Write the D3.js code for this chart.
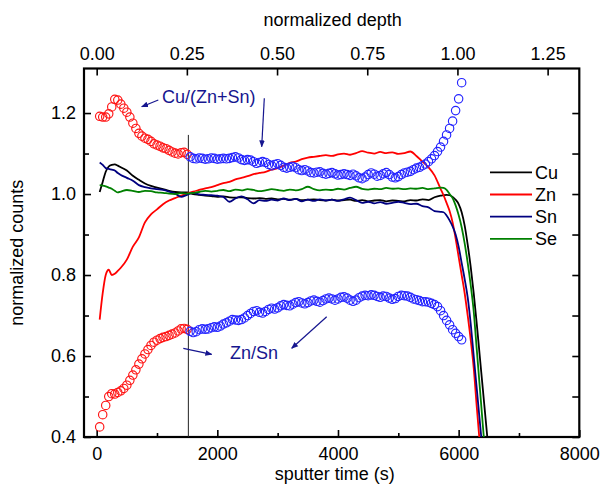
<!DOCTYPE html>
<html lang="en">
<head>
  <meta charset="UTF-8">
  <title>normalized counts vs sputter time</title>
  <script src="https://cdn.jsdelivr.net/npm/d3@7"></script>
  <style>
    body { margin: 0; background: #fff; }
    svg { font-family: "Liberation Sans", Arial, sans-serif; }
  </style>
</head>
<body>
<script>
  // sample times (s) of the element profiles
  const lineTimes = [50, 100, 150, 200, 250, 300, 350, 400,
    500, 600, 700, 800, 900, 1000, 1100, 1200, 1300, 1400, 1500, 1600, 1700, 1800, 1900, 2000,
    2100, 2200, 2300, 2400, 2500, 2600, 2700, 2800, 2900, 3000, 3100, 3200, 3300, 3400, 3500,
    3600, 3700, 3800, 3900, 4000, 4100, 4200, 4300, 4400, 4500, 4600, 4700, 4800, 4900, 5000,
    5100, 5200, 5300, 5400, 5500, 5600, 5700,
    5750, 5800, 5850, 5900, 5950, 6000, 6050, 6100, 6150, 6200, 6250, 6300, 6350, 6400, 6450, 6500];

  const cu = [1.005, 1.03, 1.055, 1.068, 1.072, 1.073, 1.070, 1.066,
    1.058, 1.045, 1.035, 1.026, 1.020, 1.016, 1.012, 1.008, 1.005, 1.004, 1.004, 1.000, 0.998, 0.996, 0.995, 0.993,
    0.994, 0.992, 0.991, 0.992, 0.990, 0.989, 0.990, 0.988, 0.989, 0.987, 0.988, 0.986, 0.988, 0.985, 0.986,
    0.987, 0.985, 0.984, 0.986, 0.984, 0.985, 0.986, 0.983, 0.985, 0.982, 0.984, 0.985, 0.982, 0.984, 0.983,
    0.982, 0.985, 0.984, 0.987, 0.985, 0.992, 0.996,
    0.997, 0.998, 0.997, 0.993, 0.986, 0.975, 0.955, 0.922, 0.875, 0.82, 0.755, 0.68, 0.60, 0.52, 0.44, 0.36];

  const zn = [0.690, 0.755, 0.800, 0.813, 0.800, 0.803, 0.810, 0.818,
    0.838, 0.870, 0.893, 0.930, 0.950, 0.962, 0.975, 0.984, 0.990, 0.996, 1.001, 1.006, 1.010, 1.014, 1.017, 1.022,
    1.027, 1.030, 1.036, 1.040, 1.044, 1.049, 1.052, 1.055, 1.060, 1.064, 1.070, 1.077, 1.080, 1.086, 1.090,
    1.092, 1.094, 1.096, 1.094, 1.098, 1.100, 1.097, 1.101, 1.106, 1.102, 1.100, 1.104, 1.101, 1.103, 1.099,
    1.101, 1.105, 1.094, 1.080, 1.066, 1.046, 1.013,
    0.997, 0.978, 0.958, 0.930, 0.890, 0.845, 0.800, 0.755, 0.700, 0.640, 0.570, 0.475, 0.385, 0.30, 0.22, 0.14];

  const sn = [1.078, 1.072, 1.064, 1.062, 1.060, 1.058, 1.052, 1.047,
    1.040, 1.033, 1.022, 1.017, 1.014, 1.012, 1.010, 1.006, 1.001, 0.993, 0.998, 1.003, 0.999, 0.998, 0.997, 0.996,
    0.993, 0.981, 0.989, 0.994, 0.987, 0.977, 0.985, 0.983, 0.986, 0.984, 0.989, 0.985, 0.988, 0.982, 0.986,
    0.983, 0.987, 0.984, 0.986, 0.983, 0.987, 0.991, 0.985, 0.978, 0.981, 0.977, 0.980, 0.976, 0.978, 0.981,
    0.978, 0.975, 0.976, 0.970, 0.967, 0.958, 0.956,
    0.955, 0.947, 0.935, 0.920, 0.900, 0.870, 0.830, 0.790, 0.745, 0.680, 0.600, 0.520, 0.440, 0.36, 0.28, 0.20];

  const se = [1.022, 1.021, 1.019, 1.016, 1.013, 1.008, 1.004, 1.006,
    1.010, 1.008, 1.005, 1.008, 1.007, 1.004, 1.003, 1.001, 1.000, 1.002, 1.001, 1.003, 1.005, 1.008, 1.006, 1.008,
    1.010, 1.007, 1.011, 1.009, 1.012, 1.010, 1.007, 1.009, 1.012, 1.010, 1.008, 1.011, 1.009, 1.012, 1.018,
    1.012, 1.009, 1.011, 1.010, 1.013, 1.011, 1.015, 1.018, 1.013, 1.011, 1.013, 1.012, 1.015, 1.013, 1.014,
    1.012, 1.014, 1.013, 1.015, 1.012, 1.014, 1.016,
    1.015, 1.010, 1.000, 0.990, 0.972, 0.948, 0.918, 0.878, 0.830, 0.775, 0.710, 0.617, 0.524, 0.431, 0.34, 0.25];

  // ratio series, one point every 50 s from 50 s to 6050 s
  const ratioStart = 50, ratioStep = 50;
  const cuRatio = [1.192, 1.190, 1.190, 1.198, 1.215, 1.234, 1.232, 1.222, 1.212, 1.202,
    1.190, 1.175, 1.162, 1.150, 1.143, 1.138, 1.135, 1.130, 1.124, 1.121,
    1.118, 1.114, 1.112, 1.108, 1.104, 1.101, 1.099, 1.102, 1.103, 1.098,
    1.092, 1.088, 1.087, 1.089, 1.088, 1.086, 1.087, 1.089, 1.088, 1.086,
    1.087, 1.088, 1.087, 1.088, 1.090, 1.092, 1.089, 1.085, 1.083, 1.085,
    1.084, 1.080, 1.076, 1.078, 1.080, 1.078, 1.073, 1.070, 1.073, 1.075,
    1.071, 1.066, 1.064, 1.066, 1.068, 1.065, 1.060, 1.058, 1.060, 1.057,
    1.053, 1.052, 1.054, 1.055, 1.051, 1.049, 1.051, 1.053, 1.050, 1.047,
    1.048, 1.050, 1.048, 1.046, 1.049, 1.045, 1.040, 1.038, 1.042, 1.048,
    1.052, 1.049, 1.044, 1.046, 1.050, 1.053, 1.048, 1.042, 1.040, 1.043,
    1.048, 1.052, 1.054, 1.056, 1.060, 1.064, 1.066, 1.070, 1.074, 1.080,
    1.087, 1.095, 1.105, 1.116, 1.130, 1.146, 1.162, 1.180, 1.206, 1.235, 1.275];
  const znSnRatio = [0.425, 0.455, 0.478, 0.500, 0.507, 0.506, 0.510, 0.514, 0.520, 0.528,
    0.540, 0.553, 0.566, 0.580, 0.593, 0.605, 0.616, 0.626, 0.634, 0.639,
    0.643, 0.646, 0.648, 0.651, 0.654, 0.657, 0.662, 0.667, 0.668, 0.666,
    0.661, 0.658, 0.660, 0.665, 0.667, 0.666, 0.667, 0.670, 0.672, 0.671,
    0.674, 0.679, 0.682, 0.686, 0.690, 0.689, 0.688, 0.690, 0.694, 0.700,
    0.705, 0.710, 0.712, 0.708, 0.706, 0.710, 0.715, 0.718, 0.716, 0.719,
    0.724, 0.727, 0.725, 0.724, 0.728, 0.732, 0.734, 0.731, 0.729, 0.732,
    0.736, 0.738, 0.735, 0.733, 0.737, 0.741, 0.743, 0.741, 0.738, 0.741,
    0.745, 0.746, 0.743, 0.738, 0.735, 0.738, 0.744, 0.748, 0.750, 0.749,
    0.751, 0.750, 0.747, 0.745, 0.748, 0.747, 0.743, 0.740, 0.742, 0.747,
    0.750, 0.749, 0.748, 0.745, 0.741, 0.739, 0.737, 0.734, 0.734, 0.733,
    0.730, 0.727, 0.722, 0.712, 0.700, 0.688, 0.677, 0.665, 0.656, 0.648, 0.640];

  const splitTime = 1520;     // vertical marker, red before / blue after
  const depthOneTime = 5980;  // sputter time of normalized depth 1.0

  const xTicks = [0, 2000, 4000, 6000, 8000];
  const xMinor = [1000, 3000, 5000, 7000];
  const depthTicks = [0, 0.25, 0.5, 0.75, 1.0, 1.25];
  const yTicks = [0.4, 0.6, 0.8, 1.0, 1.2];
  const yMinor = [0.5, 0.7, 0.9, 1.1];

  const series = [
    {name: 'Cu', values: cu, color: '#000000'},
    {name: 'Zn', values: zn, color: '#ff0000'},
    {name: 'Sn', values: sn, color: '#000080'},
    {name: 'Se', values: se, color: '#008000'}
  ];

  const width = 600, height = 493;
  const plot = {left: 84, right: 579.3, top: 68.5, bottom: 437};
  const annColor = '#16168f';

  const x = d3.scaleLinear().domain([-210, 8000]).range([plot.left, plot.right]);
  const xTop = d3.scaleLinear().domain([-210 / depthOneTime, 8000 / depthOneTime]).range([plot.left, plot.right]);
  const y = d3.scaleLinear().domain([0.4, 1.31]).range([plot.bottom, plot.top]);

  const svg = d3.select('body').append('svg').attr('width', width).attr('height', height);

  svg.append('defs').append('clipPath').attr('id', 'plotClip')
    .append('rect')
    .attr('x', plot.left).attr('y', plot.top)
    .attr('width', plot.right - plot.left).attr('height', plot.bottom - plot.top);

  const fmt2 = d3.format('.2f');
  const fmt1 = d3.format('.1f');

  // axes
  const styleAxis = g => g
    .call(g => g.select('.domain').remove())
    .call(g => g.selectAll('line').attr('stroke', '#000').attr('stroke-width', 1.6))
    .call(g => g.selectAll('text').attr('fill', '#000').style('font-size', '18px'));

  svg.append('g').attr('transform', `translate(0,${plot.bottom})`)
    .call(d3.axisBottom(x).tickValues(xTicks).tickSize(-7).tickFormat(d3.format('d')))
    .call(styleAxis)
    .call(g => g.selectAll('text').attr('y', 10));
  svg.append('g').attr('transform', `translate(0,${plot.bottom})`)
    .call(d3.axisBottom(x).tickValues(xMinor).tickSize(-4).tickFormat(''))
    .call(styleAxis);

  svg.append('g').attr('transform', `translate(0,${plot.top})`)
    .call(d3.axisTop(xTop).tickValues(depthTicks).tickSize(-7).tickFormat(fmt2))
    .call(styleAxis)
    .call(g => g.selectAll('text').attr('y', -9));

  svg.append('g').attr('transform', `translate(${plot.left},0)`)
    .call(d3.axisLeft(y).tickValues(yTicks).tickSize(-7).tickFormat(fmt1))
    .call(styleAxis)
    .call(g => g.selectAll('text').attr('x', -8));
  svg.append('g').attr('transform', `translate(${plot.left},0)`)
    .call(d3.axisLeft(y).tickValues(yMinor).tickSize(-5).tickFormat(''))
    .call(styleAxis);

  svg.append('g').attr('transform', `translate(${plot.right},0)`)
    .call(d3.axisRight(y).tickValues(yTicks.concat(yMinor)).tickSize(-7).tickFormat(''))
    .call(styleAxis);

  // frame
  svg.append('rect')
    .attr('x', plot.left).attr('y', plot.top)
    .attr('width', plot.right - plot.left).attr('height', plot.bottom - plot.top)
    .attr('fill', 'none').attr('stroke', '#000').attr('stroke-width', 2.2);

  // axis titles
  svg.append('text').attr('x', (plot.left + plot.right) / 2 + 3).attr('y', 480)
    .attr('text-anchor', 'middle').style('font-size', '18px').text('sputter time (s)');
  svg.append('text').attr('x', (plot.left + plot.right) / 2 + 1).attr('y', 26)
    .attr('text-anchor', 'middle').style('font-size', '18px').text('normalized depth');
  svg.append('text').attr('transform', `translate(23,${(plot.top + plot.bottom) / 2}) rotate(-90)`)
    .attr('text-anchor', 'middle').style('font-size', '18px').text('normalized counts');

  const chart = svg.append('g').attr('clip-path', 'url(#plotClip)');

  // marker line at the colour change
  chart.append('line')
    .attr('x1', x(splitTime)).attr('x2', x(splitTime))
    .attr('y1', y(1.146)).attr('y2', plot.bottom)
    .attr('stroke', '#222').attr('stroke-width', 1);

  // element profiles
  const line = d3.line()
    .x((d, i) => x(lineTimes[i]))
    .y(d => y(d))
    .curve(d3.curveMonotoneX);

  chart.selectAll('.profile')
    .data(series)
    .join('path')
    .attr('class', 'profile')
    .attr('fill', 'none')
    .attr('stroke', d => d.color)
    .attr('stroke-width', 1.8)
    .attr('stroke-linejoin', 'round')
    .attr('d', d => line(d.values));

  // ratio circles
  const ratioColor = t => t <= splitTime ? '#ff1414' : '#2424ff';
  [cuRatio, znSnRatio].forEach((vals, k) => {
    chart.append('g').selectAll('circle')
      .data(vals)
      .join('circle')
      .attr('cx', (d, i) => x(ratioStart + i * ratioStep))
      .attr('cy', d => y(d))
      .attr('r', 4.2)
      .attr('fill', 'none')
      .attr('stroke-width', 1.15)
      .attr('stroke', (d, i) => ratioColor(ratioStart + i * ratioStep));
  });

  // annotations
  const marker = svg.append('defs').append('marker')
    .attr('id', 'arrow').attr('viewBox', '0 0 10 10')
    .attr('refX', 9).attr('refY', 5)
    .attr('markerWidth', 7).attr('markerHeight', 7)
    .attr('markerUnits', 'userSpaceOnUse')
    .attr('orient', 'auto');
  marker.append('path').attr('d', 'M0,1 L10,5 L0,9 z').attr('fill', annColor);

  const arrows = [
    [158.3, 100, 141.7, 106.7],
    [264.3, 98.3, 261.7, 146.7],
    [183.3, 348.3, 211.7, 354.3],
    [326.7, 316.7, 291.7, 348.3]
  ];
  svg.selectAll('.arrow')
    .data(arrows)
    .join('line')
    .attr('class', 'arrow')
    .attr('x1', d => d[0]).attr('y1', d => d[1])
    .attr('x2', d => d[2]).attr('y2', d => d[3])
    .attr('stroke', annColor).attr('stroke-width', 1.2)
    .attr('marker-end', 'url(#arrow)');

  svg.append('text').attr('x', 162).attr('y', 102.5)
    .style('font-size', '18px').attr('fill', annColor).text('Cu/(Zn+Sn)');
  svg.append('text').attr('x', 230).attr('y', 359)
    .style('font-size', '18px').attr('fill', annColor).text('Zn/Sn');

  // legend
  const legend = svg.append('g');
  series.forEach((s, i) => {
    const ly = 172.3 + i * 22.2;
    legend.append('line')
      .attr('x1', 490).attr('x2', 532).attr('y1', ly).attr('y2', ly)
      .attr('stroke', s.color).attr('stroke-width', 1.8);
    legend.append('text')
      .attr('x', 535).attr('y', ly).attr('dy', '0.35em')
      .style('font-size', '18px').text(s.name);
  });
</script>
</body>
</html>
